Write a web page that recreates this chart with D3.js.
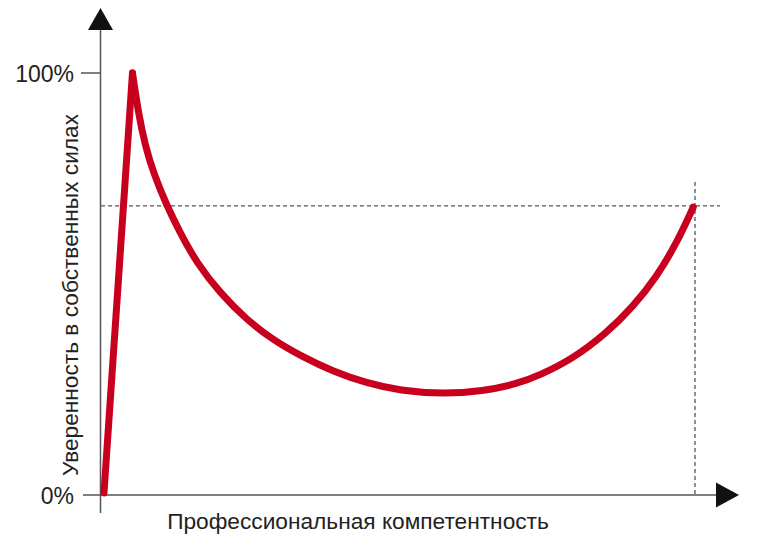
<!DOCTYPE html>
<html>
<head>
<meta charset="utf-8">
<script src="https://cdn.jsdelivr.net/npm/d3@7"></script>
<style>
  html, body { margin: 0; padding: 0; background: #fff; }
  svg { display: block; font-family: "Liberation Sans", Arial, sans-serif; }
</style>
</head>
<body>
<svg id="chart" width="761" height="552"></svg>
<script>
// Data (competence %, confidence %)
const risePoints = [[0.5, 0.5], [5.3, 100]];
const decayPoints = [
  [5.3, 100], [6.28, 90.6], [7.41, 83.0], [8.80, 76.4], [11.06, 68.6],
  [13.30, 62.2], [16.11, 55.0], [20.03, 47.9], [24.53, 41.5], [29.01, 36.7],
  [34.0, 32.7], [39.06, 29.3], [44.73, 26.5], [50.34, 24.7], [57.5, 23.9],
  [64.3, 24.6], [70.0, 26.3], [73.9, 28.4], [79.46, 32.3], [85.13, 38.4],
  [89.56, 44.6], [93.55, 51.7], [96.92, 59.7], [99.7, 68.2]
];
const yTicks = [0, 100];
const yTickLabels = ["0%", "100%"];
const refLevel = 68.5;
const refX = 100;
const xTitle = "Профессиональная компетентность";
const yTitle = "Уверенность в собственных силах";

const svg = d3.select("#chart");
const x = d3.scaleLinear().domain([0, 100]).range([101, 695]);
const y = d3.scaleLinear().domain([0, 100]).range([495, 73]);

const axisColor = "#555";

// dashed reference lines
svg.append("line")
  .attr("x1", 101).attr("x2", 720)
  .attr("y1", y(refLevel)).attr("y2", y(refLevel))
  .attr("stroke", "#555").attr("stroke-width", 1.3)
  .attr("stroke-dasharray", "4,3");
svg.append("line")
  .attr("x1", x(refX)).attr("x2", x(refX))
  .attr("y1", 182).attr("y2", y(0))
  .attr("stroke", "#555").attr("stroke-width", 1.3)
  .attr("stroke-dasharray", "4,3");

// axes
svg.append("line")
  .attr("x1", 100.5).attr("x2", 100.5)
  .attr("y1", 28).attr("y2", 513)
  .attr("stroke", axisColor).attr("stroke-width", 1.5);
svg.append("line")
  .attr("x1", 83).attr("x2", 718)
  .attr("y1", y(0)).attr("y2", y(0))
  .attr("stroke", axisColor).attr("stroke-width", 1.5);
// arrows
svg.append("path")
  .attr("d", "M100.5,8 L113,30 L88,30 Z")
  .attr("fill", "#111");
svg.append("path")
  .attr("d", `M739,${y(0)} L716,${y(0) - 12.5} L716,${y(0) + 12.5} Z`)
  .attr("fill", "#111");

// ticks
yTicks.forEach((t, i) => {
  if (t !== 0) {
    svg.append("line")
      .attr("x1", 81).attr("x2", 100.5)
      .attr("y1", y(t)).attr("y2", y(t))
      .attr("stroke", axisColor).attr("stroke-width", 1.5);
  }
  svg.append("text")
    .attr("x", 74).attr("y", y(t) + 8.5)
    .attr("text-anchor", "end")
    .attr("font-size", 23)
    .attr("fill", "#222")
    .text(yTickLabels[i]);
});

// titles
svg.append("text")
  .attr("x", 358).attr("y", 529)
  .attr("text-anchor", "middle")
  .attr("font-size", 22.7)
  .attr("fill", "#222")
  .text(xTitle);
svg.append("text")
  .attr("transform", "translate(78,295) rotate(-90)")
  .attr("text-anchor", "middle")
  .attr("font-size", 22.7)
  .attr("fill", "#222")
  .text(yTitle);

// curve
const red = "#c8001e";
const lineLin = d3.line().x(d => x(d[0])).y(d => y(d[1])).curve(d3.curveLinear);
const lineCurve = d3.line().x(d => x(d[0])).y(d => y(d[1])).curve(d3.curveBasis);
svg.append("path")
  .attr("d", lineLin(risePoints))
  .attr("fill", "none").attr("stroke", red).attr("stroke-width", 7)
  .attr("stroke-linecap", "round").attr("stroke-linejoin", "round");
svg.append("path")
  .attr("d", lineCurve(decayPoints))
  .attr("fill", "none").attr("stroke", red).attr("stroke-width", 7)
  .attr("stroke-linecap", "round").attr("stroke-linejoin", "round");
</script>
</body>
</html>
